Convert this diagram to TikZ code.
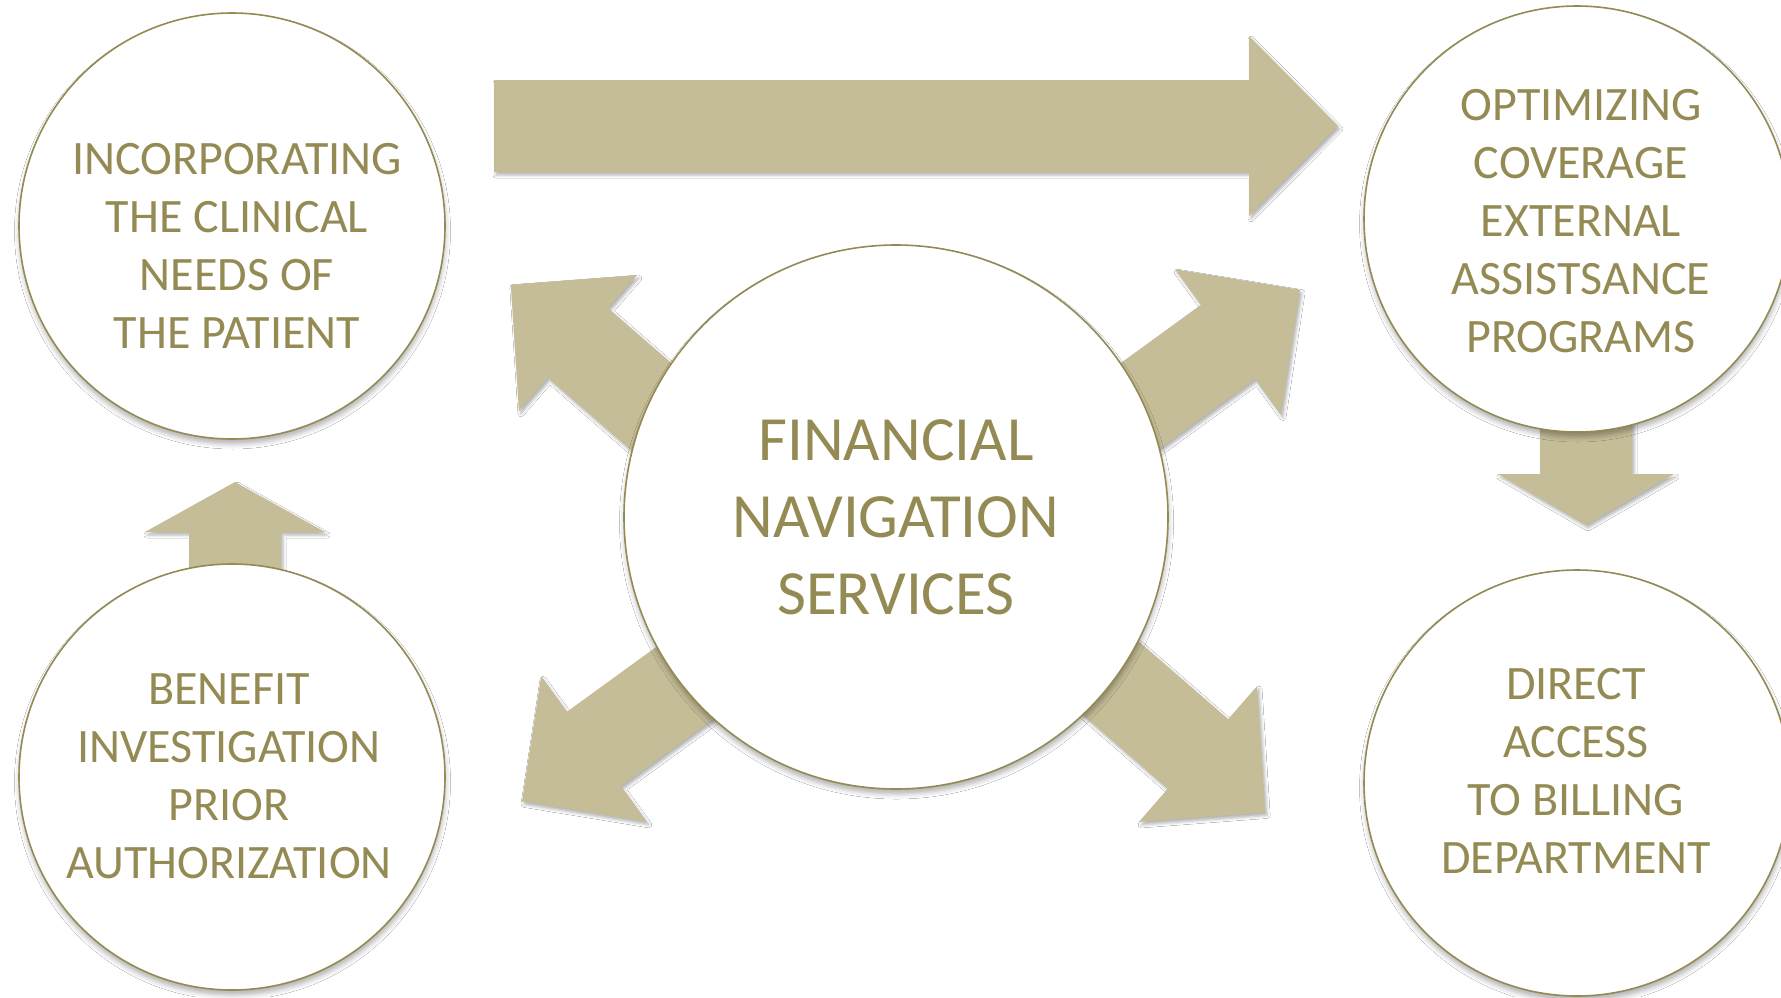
\documentclass[tikz,border=0pt]{standalone}
\usepackage{fontspec}
\setmainfont{Carlito}
\usetikzlibrary{calc,shadows.blur}
\definecolor{arrowtan}{HTML}{C4BD97}
\definecolor{inkolive}{HTML}{948A54}
\tikzset{
  softshadow/.style={blur shadow={shadow xshift=0.5pt, shadow yshift=-5pt, shadow blur radius=5pt, shadow opacity=30}},
  bubble/.style={circle, draw=inkolive, line width=1.6pt, fill=white, inner sep=0pt, minimum size=#1, softshadow},
  blockarrow/.style={fill=arrowtan, blur shadow={shadow xshift=2pt, shadow yshift=-3pt, shadow blur radius=3pt, shadow opacity=30}},
  caption/.style={text=inkolive, align=center, inner sep=0pt, font=\fontsize{48}{58}\selectfont},
  bigcaption/.style={text=inkolive, align=center, inner sep=0pt, font=\fontsize{63}{77}\selectfont},
}
% block arrow: #1 head base, #2 direction (screen angle, y down), #3 stem length,
% #4 head length, #5 head half-width, #6 stem half-width
\newcommand{\fatarrow}[6]{%
  \path[blockarrow]
    ($#1+(#2+180:#3)+(#2+90:#6)$) -- ($#1+(#2+90:#6)$) -- ($#1+(#2+90:#5)$)
    -- ($#1+(#2:#4)$)
    -- ($#1+(#2-90:#5)$) -- ($#1+(#2-90:#6)$) -- ($#1+(#2+180:#3)+(#2-90:#6)$) -- cycle;}
\begin{document}
\begin{tikzpicture}[x=1pt,y=-1pt]
\fill[white] (0,0) rectangle (1781,997);
\useasboundingbox (0,0) rectangle (1781,997);

% head bases of the block arrows
\coordinate (hTop) at (1249,126);
\coordinate (hDown) at (1586,474);
\coordinate (hUp) at (235,532);
\coordinate (hUR) at (1228,342);
\coordinate (hUL) at (578,343);
\coordinate (hLL) at (594,749);
\coordinate (hLR) at (1198,754);

\fatarrow{(hTop)}{0}{755}{89}{90}{46}
\fatarrow{(hDown)}{90}{94}{51}{88}{46}
\fatarrow{(hUp)}{-90}{68}{50}{90}{46}
\fatarrow{(hUR)}{-36}{260}{89}{90}{46}
\fatarrow{(hUL)}{-139}{260}{89}{90}{46}
\fatarrow{(hLL)}{144}{260}{89}{90}{46}
\fatarrow{(hLR)}{41}{260}{89}{90}{46}

% circles
\node[bubble=426pt] (clinical) at (232,226) {};
\node[bubble=426pt] (coverage) at (1577,219) {};
\node[bubble=426pt] (benefit) at (232,777) {};
\node[bubble=426pt] (billing) at (1577,783) {};
\node[bubble=544pt] (center) at (896,517) {};

% texts
\node[caption] (tClinical) at (237,246) {INCORPORATING\\THE CLINICAL\\NEEDS OF\\THE PATIENT};
\node[caption] (tCoverage) at (1581,221) {OPTIMIZING\\COVERAGE\\EXTERNAL\\ASSISTSANCE\\PROGRAMS};
\node[caption] (tBenefit) at (229,776) {BENEFIT\\INVESTIGATION\\PRIOR\\AUTHORIZATION};
\node[caption] (tBilling) at (1576,771) {DIRECT\\ACCESS\\TO BILLING\\DEPARTMENT};
\node[bigcaption] (tCenter) at (896,517) {FINANCIAL\\NAVIGATION\\SERVICES};
\end{tikzpicture}
\end{document}
